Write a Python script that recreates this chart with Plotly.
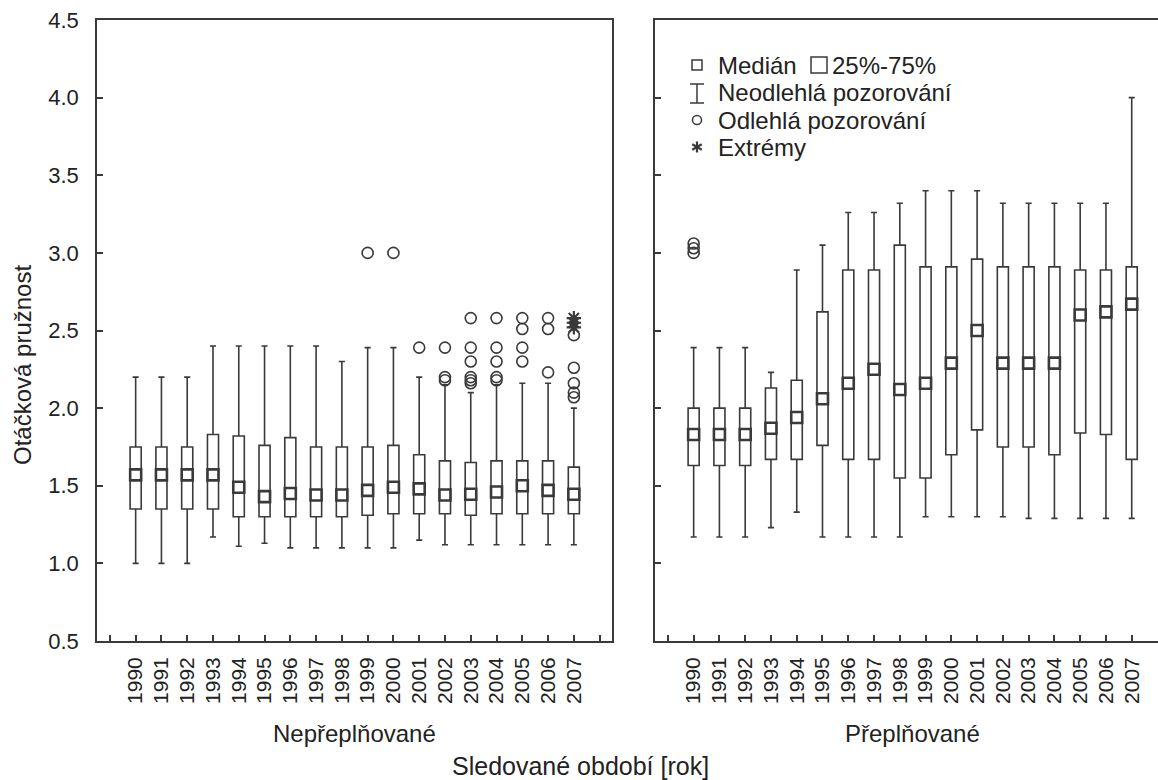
import plotly.graph_objects as go
import math

years = [str(y) for y in range(1990, 2008)]

# Nepřeplňované (left panel)
L_low = [1.00, 1.00, 1.00, 1.17, 1.11, 1.13, 1.10, 1.10, 1.10, 1.10, 1.10, 1.15, 1.12, 1.12, 1.12, 1.12, 1.12, 1.12]
L_q1 = [1.35, 1.35, 1.35, 1.35, 1.30, 1.30, 1.30, 1.30, 1.30, 1.31, 1.32, 1.32, 1.32, 1.31, 1.32, 1.32, 1.32, 1.32]
L_med = [1.57, 1.57, 1.57, 1.57, 1.49, 1.43, 1.45, 1.44, 1.44, 1.47, 1.49, 1.48, 1.44, 1.445, 1.46, 1.50, 1.47, 1.445]
L_q3 = [1.75, 1.75, 1.75, 1.83, 1.82, 1.76, 1.81, 1.75, 1.75, 1.75, 1.76, 1.70, 1.66, 1.65, 1.66, 1.66, 1.66, 1.62]
L_high = [2.20, 2.20, 2.20, 2.40, 2.40, 2.40, 2.40, 2.40, 2.30, 2.39, 2.39, 2.20, 2.15, 2.10, 2.15, 2.16, 2.16, 2.00]
L_out_year = ["1999", "2000", "2001",
              "2002", "2002", "2002",
              "2003", "2003", "2003", "2003", "2003", "2003",
              "2004", "2004", "2004", "2004", "2004",
              "2005", "2005", "2005", "2005",
              "2006", "2006", "2006",
              "2007", "2007", "2007", "2007", "2007"]
L_out_val = [3.00, 3.00, 2.39,
             2.39, 2.20, 2.18,
             2.58, 2.39, 2.30, 2.20, 2.18, 2.16,
             2.58, 2.39, 2.30, 2.20, 2.18,
             2.58, 2.51, 2.39, 2.30,
             2.58, 2.51, 2.23,
             2.47, 2.26, 2.16, 2.10, 2.07]
L_ext_year = ["2007", "2007", "2007"]
L_ext_val = [2.58, 2.55, 2.52]

# Přeplňované (right panel)
R_low = [1.17, 1.17, 1.17, 1.23, 1.33, 1.17, 1.17, 1.17, 1.17, 1.30, 1.30, 1.30, 1.30, 1.29, 1.29, 1.29, 1.29, 1.29]
R_q1 = [1.63, 1.63, 1.63, 1.67, 1.67, 1.76, 1.67, 1.67, 1.55, 1.55, 1.70, 1.86, 1.75, 1.75, 1.70, 1.84, 1.83, 1.67]
R_med = [1.83, 1.83, 1.83, 1.87, 1.94, 2.06, 2.16, 2.25, 2.12, 2.16, 2.29, 2.50, 2.29, 2.29, 2.29, 2.60, 2.62, 2.67]
R_q3 = [2.00, 2.00, 2.00, 2.13, 2.18, 2.62, 2.89, 2.89, 3.05, 2.91, 2.91, 2.96, 2.91, 2.91, 2.91, 2.89, 2.89, 2.91]
R_high = [2.39, 2.39, 2.39, 2.23, 2.89, 3.05, 3.26, 3.26, 3.32, 3.40, 3.40, 3.40, 3.32, 3.32, 3.32, 3.32, 3.32, 4.00]
R_out_year = ["1990", "1990", "1990"]
R_out_val = [3.00, 3.03, 3.06]

y_ticks = [0.5, 1.0, 1.5, 2.0, 2.5, 3.0, 3.5, 4.0, 4.5]

INK = "#3a3a3a"
TXT = "#222222"
FONT = "Liberation Sans, Arial, Helvetica, sans-serif"
W, H = 1158, 780
ML, MT, MB = 97, 20, 139
PW, PH = W - ML, H - MT - MB


def px(x):
    return (x - ML) / PW


def py(y):
    return (H - MB - y) / PH


pos = {y: i for i, y in enumerate(years)}
idx = [pos[y] for y in years]

fig = go.Figure()

for ax, low, q1, med, q3, high, oy, ov in [
    ("", L_low, L_q1, L_med, L_q3, L_high, L_out_year, L_out_val),
    ("2", R_low, R_q1, R_med, R_q3, R_high, R_out_year, R_out_val),
]:
    fig.add_trace(go.Box(
        x=idx, q1=q1, median=med, q3=q3, lowerfence=low, upperfence=high,
        boxpoints=False, width=0.43, whiskerwidth=0.55,
        fillcolor="white", line=dict(color=INK, width=1.6),
        xaxis="x" + ax, yaxis="y" + ax, showlegend=False, hoverinfo="skip"))
    fig.add_trace(go.Scatter(
        x=idx, y=med, mode="markers",
        marker=dict(symbol="square", size=11, color="white",
                    line=dict(color=INK, width=2.6)),
        xaxis="x" + ax, yaxis="y" + ax, showlegend=False, hoverinfo="skip"))
    fig.add_trace(go.Scatter(
        x=[pos[y] for y in oy], y=ov, mode="markers",
        marker=dict(symbol="circle-open", size=11, color=INK,
                    line=dict(color=INK, width=1.6)),
        xaxis="x" + ax, yaxis="y" + ax, showlegend=False, hoverinfo="skip"))

fig.add_trace(go.Scatter(
    x=[pos[y] for y in L_ext_year], y=L_ext_val, mode="markers",
    marker=dict(symbol="asterisk-open", size=12, color=INK,
                line=dict(color=INK, width=2.2)),
    xaxis="x", yaxis="y", showlegend=False, hoverinfo="skip"))

tickvals = list(range(-1, 19))
ticktext = [""] + years + [""]
xcommon = dict(tickmode="array", tickvals=tickvals, ticktext=ticktext,
               tickangle=-90, ticks="inside", ticklen=6, tickwidth=1.5,
               tickcolor=INK, showline=True, linecolor=INK, linewidth=1.6,
               mirror=True, showgrid=False, zeroline=False,
               tickfont=dict(family=FONT, size=21, color=TXT),
               ticklabelstandoff=6)
ycommon = dict(range=[0.5, 4.5], tickmode="array", tickvals=y_ticks,
               ticks="inside", ticklen=6, tickwidth=1.5, tickcolor=INK,
               showline=True, linecolor=INK, linewidth=1.6,
               showgrid=False, zeroline=False,
               tickfont=dict(family=FONT, size=22, color=TXT))

x1_end = px(612)
x2_start = px(655)
fig.update_layout(
    width=W, height=H,
    margin=dict(l=ML, r=0, t=MT, b=MB),
    paper_bgcolor="white", plot_bgcolor="white",
    boxmode="overlay",
    xaxis=dict(domain=[0, x1_end], range=[-1.5, 18.48], **xcommon),
    xaxis2=dict(domain=[x2_start, 1], range=[-1.5, 18.02], anchor="y2", **xcommon),
    yaxis=dict(domain=[0, 1], anchor="x", mirror=True, tickformat=".1f",
               ticklabelstandoff=12, **ycommon),
    yaxis2=dict(domain=[0, 1], anchor="x2", showticklabels=False, mirror=False,
                **ycommon),
    font=dict(family=FONT, color=TXT),
)

ann = []
ann.append(dict(text="Otáčková pružnost", x=px(22), y=py(365), xref="paper", yref="paper",
                textangle=-90, showarrow=False, font=dict(size=24, family=FONT, color=TXT),
                xanchor="center", yanchor="middle"))
ann.append(dict(text="Nepřeplňované", x=px(354), y=py(733), xref="paper", yref="paper",
                showarrow=False, font=dict(size=24, family=FONT, color=TXT),
                xanchor="center", yanchor="middle"))
ann.append(dict(text="Přeplňované", x=px(912), y=py(733), xref="paper", yref="paper",
                showarrow=False, font=dict(size=24, family=FONT, color=TXT),
                xanchor="center", yanchor="middle"))
ann.append(dict(text="Sledované období [rok]", x=px(580), y=py(766), xref="paper", yref="paper",
                showarrow=False, font=dict(size=25, family=FONT, color=TXT),
                xanchor="center", yanchor="middle"))

# legend texts
LFS = 24
leg_rows = [(65, "Medián"), (93, "Neodlehlá pozorování"), (120, "Odlehlá pozorování"), (147, "Extrémy")]
for yy, t in leg_rows:
    ann.append(dict(text=t, x=px(716), y=py(yy), xref="paper", yref="paper",
                    showarrow=False, font=dict(size=LFS, family=FONT, color=TXT),
                    xanchor="left", yanchor="middle"))
ann.append(dict(text="25%-75%", x=px(830), y=py(65), xref="paper", yref="paper",
                showarrow=False, font=dict(size=LFS, family=FONT, color=TXT),
                xanchor="left", yanchor="middle"))

shapes = []
line = dict(color=INK, width=1.5)
# small square (median)
shapes.append(dict(type="rect", xref="paper", yref="paper", x0=px(692), x1=px(702),
                   y0=py(70), y1=py(60), line=line, fillcolor="white"))
# big square (25-75%)
shapes.append(dict(type="rect", xref="paper", yref="paper", x0=px(811), x1=px(827),
                   y0=py(73), y1=py(57), line=line, fillcolor="white"))
# whisker I-beam
shapes.append(dict(type="line", xref="paper", yref="paper", x0=px(697), x1=px(697),
                   y0=py(84), y1=py(103), line=line))
shapes.append(dict(type="line", xref="paper", yref="paper", x0=px(690), x1=px(704),
                   y0=py(84), y1=py(84), line=line))
shapes.append(dict(type="line", xref="paper", yref="paper", x0=px(690), x1=px(704),
                   y0=py(103), y1=py(103), line=line))
# circle
shapes.append(dict(type="circle", xref="paper", yref="paper", x0=px(692.5), x1=px(701.5),
                   y0=py(124.5), y1=py(115.5), line=line))
# asterisk
for ang in [90, 30, -30]:
    dx = 5.5 * math.cos(math.radians(ang))
    dy = 5.5 * math.sin(math.radians(ang))
    shapes.append(dict(type="line", xref="paper", yref="paper",
                       x0=px(697 - dx), x1=px(697 + dx), y0=py(147 + dy), y1=py(147 - dy),
                       line=dict(color=INK, width=2.2)))

fig.update_layout(annotations=ann, shapes=shapes)

fig.write_html("out.html")
